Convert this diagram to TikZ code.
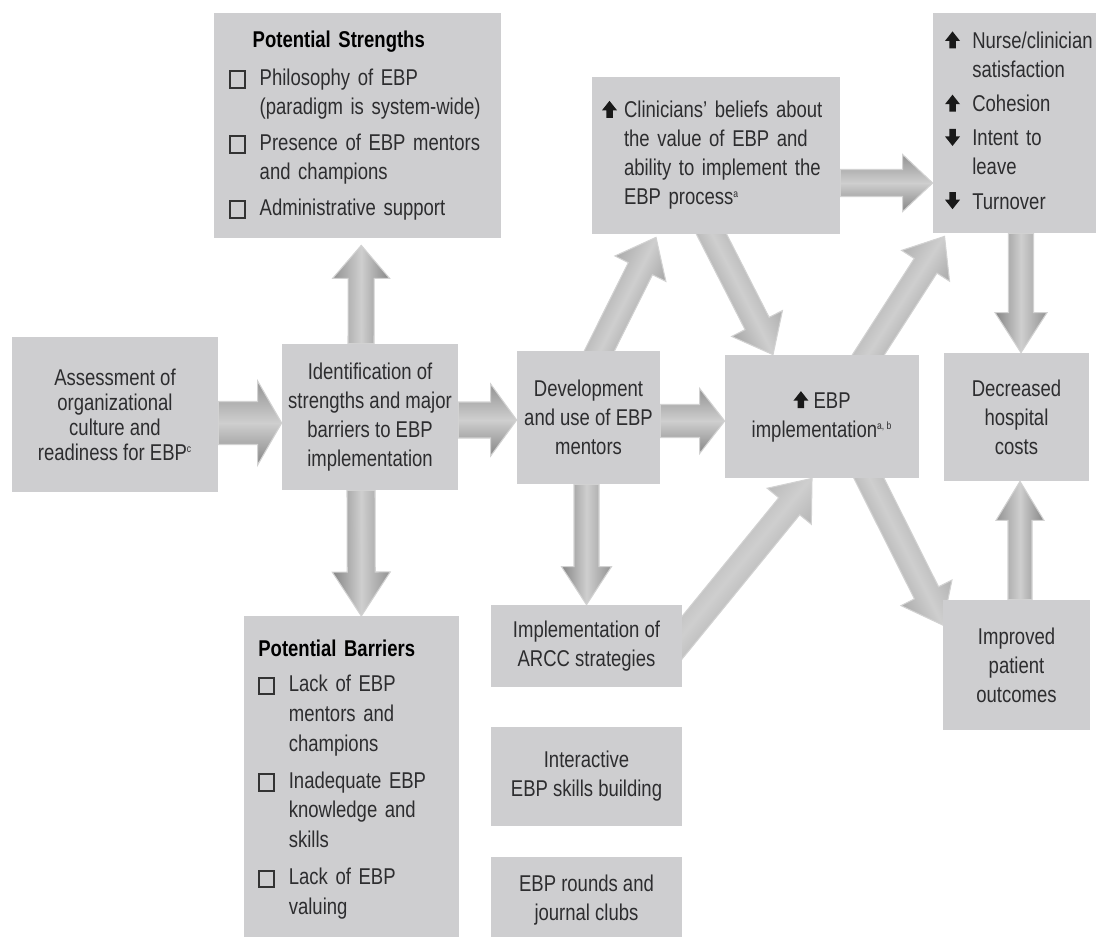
\documentclass[tikz,border=0pt]{standalone}
\usepackage{fontspec}
\setmainfont{Liberation Sans}[FakeStretch=0.81]
\usepackage{xcolor}
\definecolor{boxGray}{RGB}{206,206,208}
\definecolor{txtGray}{RGB}{45,45,47}
\usetikzlibrary{calc, backgrounds}

% small marks used inside the boxes
\newcommand\chk{\tikz[baseline=1.5pt]\draw[line width=1.1pt, black!80] (0,0) rectangle (0.29,0.33);}
\newcommand\upico{\tikz[baseline=0pt]\fill[black!90] (-0.065,0) rectangle (0.065,0.17) (-0.15,0.15) -- (0,0.34) -- (0.15,0.15) -- cycle;}
\newcommand\dnico{\tikz[baseline=0pt]\fill[black!90] (-0.065,0.34) rectangle (0.065,0.17) (-0.15,0.19) -- (0,0) -- (0.15,0.19) -- cycle;}
\newcommand\sups[1]{\textsuperscript{\fontsize{6}{6}\selectfont #1}}

% block arrow: half shaft, half head, head length (cm), from, to
\newcommand\flow[5]{%
	\coordinate (fa) at (#4);
	\coordinate (fb) at (#5);
	\coordinate (fh) at ($(fb)!#3cm!(fa)$);
	\pgfmathanglebetweenpoints{\pgfpointanchor{fa}{center}}{\pgfpointanchor{fb}{center}}%
	\let\flowang\pgfmathresult
	\shade[flowarrow, shading angle=\flowang]
		($(fa)!#1cm!90:(fb)$) -- ($(fh)!#1cm!-90:(fa)$) -- ($(fh)!#2cm!-90:(fa)$)
		-- (fb) -- ($(fh)!#2cm!90:(fa)$) -- ($(fh)!#1cm!90:(fa)$)
		-- ($(fa)!#1cm!-90:(fb)$) -- cycle;
}

\begin{document}
\begin{tikzpicture}[
		box/.style={fill=boxGray, text=txtGray, align=center, inner sep=0pt, font=\fontsize{13}{16.5}\selectfont},
		list/.style={fill=boxGray, text=txtGray, align=left, font=\fontsize{13}{16.5}\selectfont},
		flowarrow/.style={draw=gray!35, line width=0.6pt, top color=gray!85, bottom color=gray!105!black, middle color=gray!38}
	]
	\useasboundingbox (0,0) rectangle (21.92,-18.72);

	% ===== Left: assessment and identification =====
	\node[box, minimum width=4.12cm, minimum height=3.10cm, font=\fontsize{13}{14.2}\selectfont]
		(assess) at (2.30,-8.29) {Assessment of\\organizational\\culture and\\readiness for EBP\sups{c}};
	\node[box, minimum width=3.52cm, minimum height=2.92cm]
		(ident) at (7.40,-8.34) {Identification of\\strengths and major\\barriers to EBP\\implementation};

	% Strengths / barriers
	\node[list, minimum width=5.74cm, minimum height=4.50cm, inner xsep=0.3cm, inner ysep=0pt, text width=5.14cm]
		(strong) at (7.155,-2.51) {%
		\begin{tabular}{@{}l@{\hskip 8pt}l@{}}
			& \hspace*{-4pt}\textbf{\color{black}Potential Strengths}\\[5pt]
			\chk & Philosophy of EBP\\
			& (paradigm is system-wide)\\[4pt]
			\chk & Presence of EBP mentors\\
			& and champions\\[4pt]
			\chk & Administrative support
		\end{tabular}};
	\node[list, anchor=north west, minimum width=4.30cm, inner xsep=0.28cm, inner ysep=0.38cm, text width=3.74cm,
		font=\fontsize{13}{17}\selectfont]
		(barr) at (4.88,-12.32) {%
		\begin{tabular}{@{}l@{\hskip 8pt}l@{}}
			\multicolumn{2}{@{}l@{}}{\textbf{\color{black}Potential Barriers}}\\[3pt]
			\chk & Lack of EBP\\
			& mentors and\\
			& champions\\[4pt]
			\chk & Inadequate EBP\\
			& knowledge and\\
			& skills\\[4pt]
			\chk & Lack of EBP\\
			& valuing
		\end{tabular}};

	% ===== Middle: mentors and strategies =====
	\node[box, minimum width=2.86cm, minimum height=2.66cm]
		(dev) at (11.77,-8.35) {Development\\and use of EBP\\mentors};
	\node[box, minimum width=3.82cm, minimum height=1.64cm]
		(arcc) at (11.73,-12.92) {Implementation of\\ARCC strategies};
	\node[box, minimum width=3.82cm, minimum height=1.98cm]
		(skills) at (11.73,-15.53) {Interactive\\EBP skills building};
	\node[box, anchor=north, minimum width=3.82cm, minimum height=1.70cm]
		(rounds) at (11.73,-17.14) {EBP rounds and\\journal clubs};

	\node[list, minimum width=4.96cm, minimum height=3.14cm, inner xsep=0.2cm, inner ysep=0pt, text width=4.56cm]
		(clin) at (14.32,-3.11) {%
		\begin{tabular}{@{}l@{\hskip 4pt}l@{}}
			\upico & Clinicians’ beliefs about\\
			& the value of EBP and\\
			& ability to implement the\\
			& EBP process\sups{a}
		\end{tabular}};
	\node[box, minimum width=3.88cm, minimum height=2.46cm]
		(impl) at (16.44,-8.33) {\upico\ EBP\\implementation\sups{a, b}};

	% ===== Right: outcomes =====
	\node[list, minimum width=3.26cm, minimum height=4.40cm, inner xsep=0.24cm, inner ysep=0pt, text width=2.78cm]
		(outc) at (20.29,-2.46) {%
		\begin{tabular}{@{}l@{\hskip 7pt}l@{}}
			\upico & Nurse/clinician\\
			& satisfaction\\[3pt]
			\upico & Cohesion\\[3pt]
			\dnico & Intent to\\
			& leave\\[3pt]
			\dnico & Turnover
		\end{tabular}};
	\node[box, minimum width=2.90cm, minimum height=2.56cm]
		(cost) at (20.33,-8.34) {Decreased\\hospital\\costs};
	\node[box, minimum width=2.94cm, minimum height=2.60cm]
		(patient) at (20.33,-13.30) {Improved\\patient\\outcomes};

	% ===== Block arrows (behind the boxes) =====
	\begin{pgfonlayer}{background}
		\flow{.43}{.84}{.48}{[yshift=-0.17cm]assess.east}{[yshift=-0.12cm]ident.west}
		\flow{.36}{.72}{.52}{[yshift=-0.06cm]ident.east}{[yshift=-0.05cm]dev.west}
		\flow{.33}{.65}{.50}{[yshift=-0.07cm]dev.east}{[yshift=-0.09cm]impl.west}
		\flow{.26}{.57}{.66}{[xshift=-0.18cm]ident.north}{[xshift=0.07cm, yshift=-0.14cm]strong.south}
		\flow{.28}{.58}{.88}{[xshift=-0.18cm]ident.south}{[xshift=0.19cm]barr.north}
		\flow{.27}{.57}{.70}{[xshift=0.13cm, yshift=-0.18cm]dev.north}{[xshift=-1.2cm, yshift=-0.06cm]clin.south}
		\flow{.25}{.50}{.76}{[xshift=-0.04cm]dev.south}{arcc.north}
		\flow{.27}{.57}{.70}{[xshift=-0.18cm, yshift=0.18cm]clin.south}{[xshift=-0.98cm]impl.north}
		\flow{.27}{.57}{.72}{[xshift=-0.24cm, yshift=-0.12cm]arcc.east}{[xshift=-0.2cm]impl.south}
		\flow{.27}{.57}{.60}{[yshift=-0.55cm]clin.east}{[yshift=-1.2cm]outc.west}
		\flow{.27}{.57}{.70}{[xshift=0.8cm, yshift=-0.2cm]impl.north}{[xshift=-1.4cm, yshift=-0.06cm]outc.south}
		\flow{.25}{.52}{.80}{[xshift=0.13cm]outc.south}{[xshift=0.09cm]cost.north}
		\flow{.27}{.57}{.72}{[xshift=0.86cm, yshift=0.16cm]impl.south}{[yshift=0.80cm]patient.west}
		\flow{.24}{.48}{.78}{[xshift=0.07cm]patient.north}{[xshift=0.07cm]cost.south}
	\end{pgfonlayer}
\end{tikzpicture}
\end{document}
